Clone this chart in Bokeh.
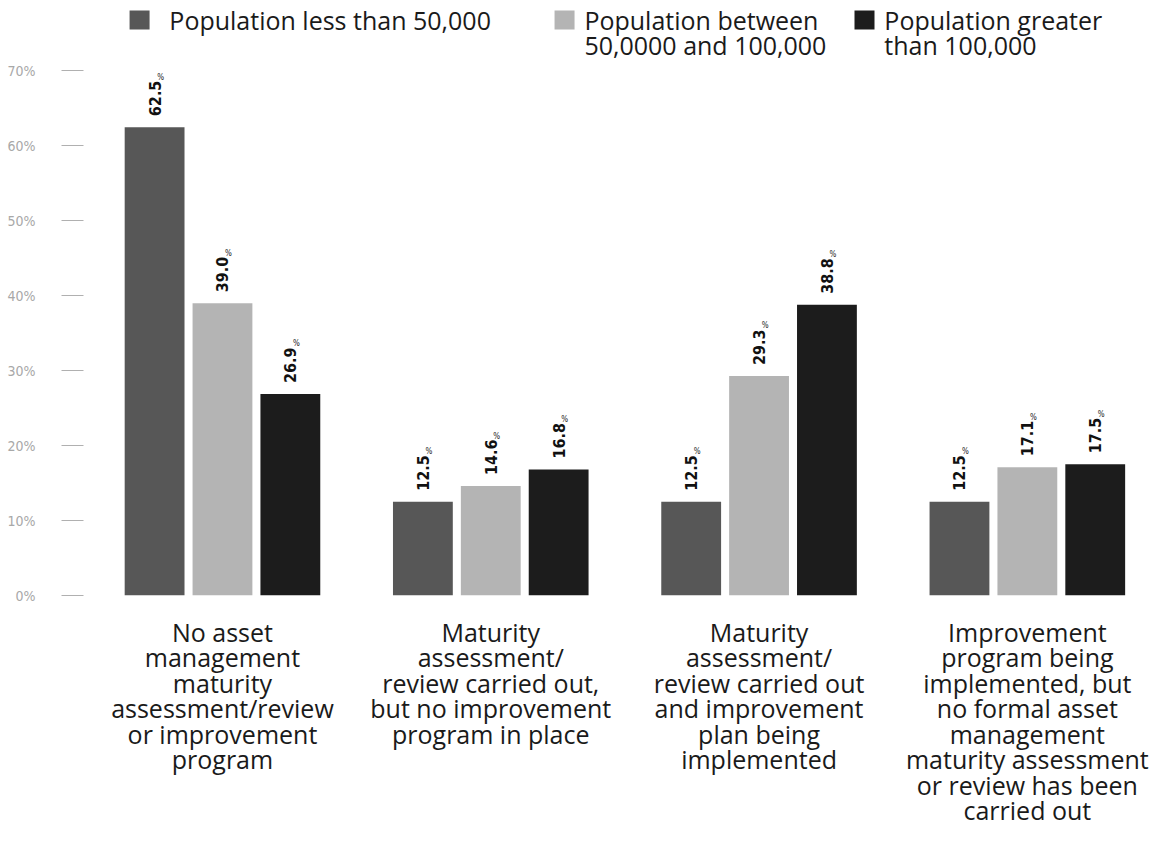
import math
from bokeh.plotting import figure
from bokeh.models import ColumnDataSource, FixedTicker
from bokeh.transform import dodge
from bokeh.core.properties import value
from bokeh.embed import file_html
from bokeh.resources import INLINE

# ---------------- data ----------------
categories = [
    "No asset\nmanagement\nmaturity\nassessment/review\nor improvement\nprogram",
    "Maturity\nassessment/\nreview carried out,\nbut no improvement\nprogram in place",
    "Maturity\nassessment/\nreview carried out\nand improvement\nplan being\nimplemented",
    "Improvement\nprogram being\nimplemented, but\nno formal asset\nmanagement\nmaturity assessment\nor review has been\ncarried out",
]
series_names = [
    "Population less than 50,000",
    "Population between\n50,0000 and 100,000",
    "Population greater\nthan 100,000",
]
less_50k = [62.5, 12.5, 12.5, 12.5]
between_50k_100k = [39.0, 14.6, 29.3, 17.1]
greater_100k = [26.9, 16.8, 38.8, 17.5]
y_ticks = [0, 10, 20, 30, 40, 50, 60, 70]
y_tick_labels = ["0%", "10%", "20%", "30%", "40%", "50%", "60%", "70%"]

colors = ["#575757", "#b4b4b4", "#1c1c1c"]
offsets = [-0.253, 0.0, 0.253]
bar_width = 0.223
COND = "'DejaVu Sans Condensed', 'Liberation Sans Narrow', sans-serif"

idx = list(range(len(categories)))
src = ColumnDataSource(dict(
    idx=idx,
    s0=less_50k, s1=between_50k_100k, s2=greater_100k,
    l0=[f"{v:.1f}" for v in less_50k],
    l1=[f"{v:.1f}" for v in between_50k_100k],
    l2=[f"{v:.1f}" for v in greater_100k],
))

p = figure(width=1150, height=855, output_backend="svg", toolbar_location=None,
           x_range=(-0.518, 3.459), y_range=(0, 79.4),
           min_border_left=83, min_border_right=0, min_border_top=0,
           min_border_bottom=260)
p.outline_line_color = None
p.xgrid.visible = False
p.ygrid.visible = False
p.background_fill_color = "white"
p.border_fill_color = "white"

for k in range(3):
    p.vbar(x=dodge("idx", offsets[k]), top=f"s{k}", width=bar_width,
           source=src, fill_color=colors[k], line_color=None)
    p.text(x=dodge("idx", offsets[k]), y=f"s{k}", text=f"l{k}", source=src,
           angle=math.pi / 2, text_align="left", text_baseline="middle",
           y_offset=-11, text_font=value(COND),
           text_font_style="bold", text_font_size="16px", text_color="#111111")
    p.text(x=dodge("idx", offsets[k]), y=f"s{k}", text=value("%"), source=src,
           text_align="center", text_baseline="middle",
           x_offset=6, y_offset=-50, text_font=value(COND),
           text_font_size="8px", text_color="#222222")

# legend (manual, to match placement)
leg_x_sq = [-0.309, 1.275, 2.393]
leg_x_tx = [-0.198, 1.349, 2.467]
p.rect(x=leg_x_sq, y=[76.8] * 3, width=20, height=19,
       width_units="screen", height_units="screen",
       fill_color=colors, line_color=None)
p.text(x=leg_x_tx, y=[79.1] * 3, text=series_names,
       text_align="left", text_baseline="top",
       text_font=value("Open Sans"), text_font_size="25px",
       text_line_height=0.74, text_color="#1a1a1a")

# y axis
p.yaxis.ticker = FixedTicker(ticks=y_ticks)
p.yaxis.major_label_overrides = {t: l for t, l in zip(y_ticks, y_tick_labels)}
p.yaxis.axis_line_color = None
p.yaxis.minor_tick_line_color = None
p.yaxis.major_tick_in = 0
p.yaxis.major_tick_out = 22
p.yaxis.major_tick_line_color = "#b0b0b0"
p.yaxis.major_label_standoff = 26
p.yaxis.major_label_text_font = COND
p.yaxis.major_label_text_font_size = "14px"
p.yaxis.major_label_text_color = "#a8a8a8"

# x axis
p.xaxis.ticker = FixedTicker(ticks=idx)
p.xaxis.major_label_overrides = {i: c for i, c in zip(idx, categories)}
p.xaxis.axis_line_color = None
p.xaxis.major_tick_line_color = None
p.xaxis.minor_tick_line_color = None
p.xaxis.major_label_standoff = 13
p.xaxis.major_label_text_font = "Open Sans"
p.xaxis.major_label_text_font_size = "25px"
p.xaxis.major_label_text_line_height = 0.75
p.xaxis.major_label_text_color = "#1a1a1a"

open("out.html", "w").write(file_html(p, INLINE))
